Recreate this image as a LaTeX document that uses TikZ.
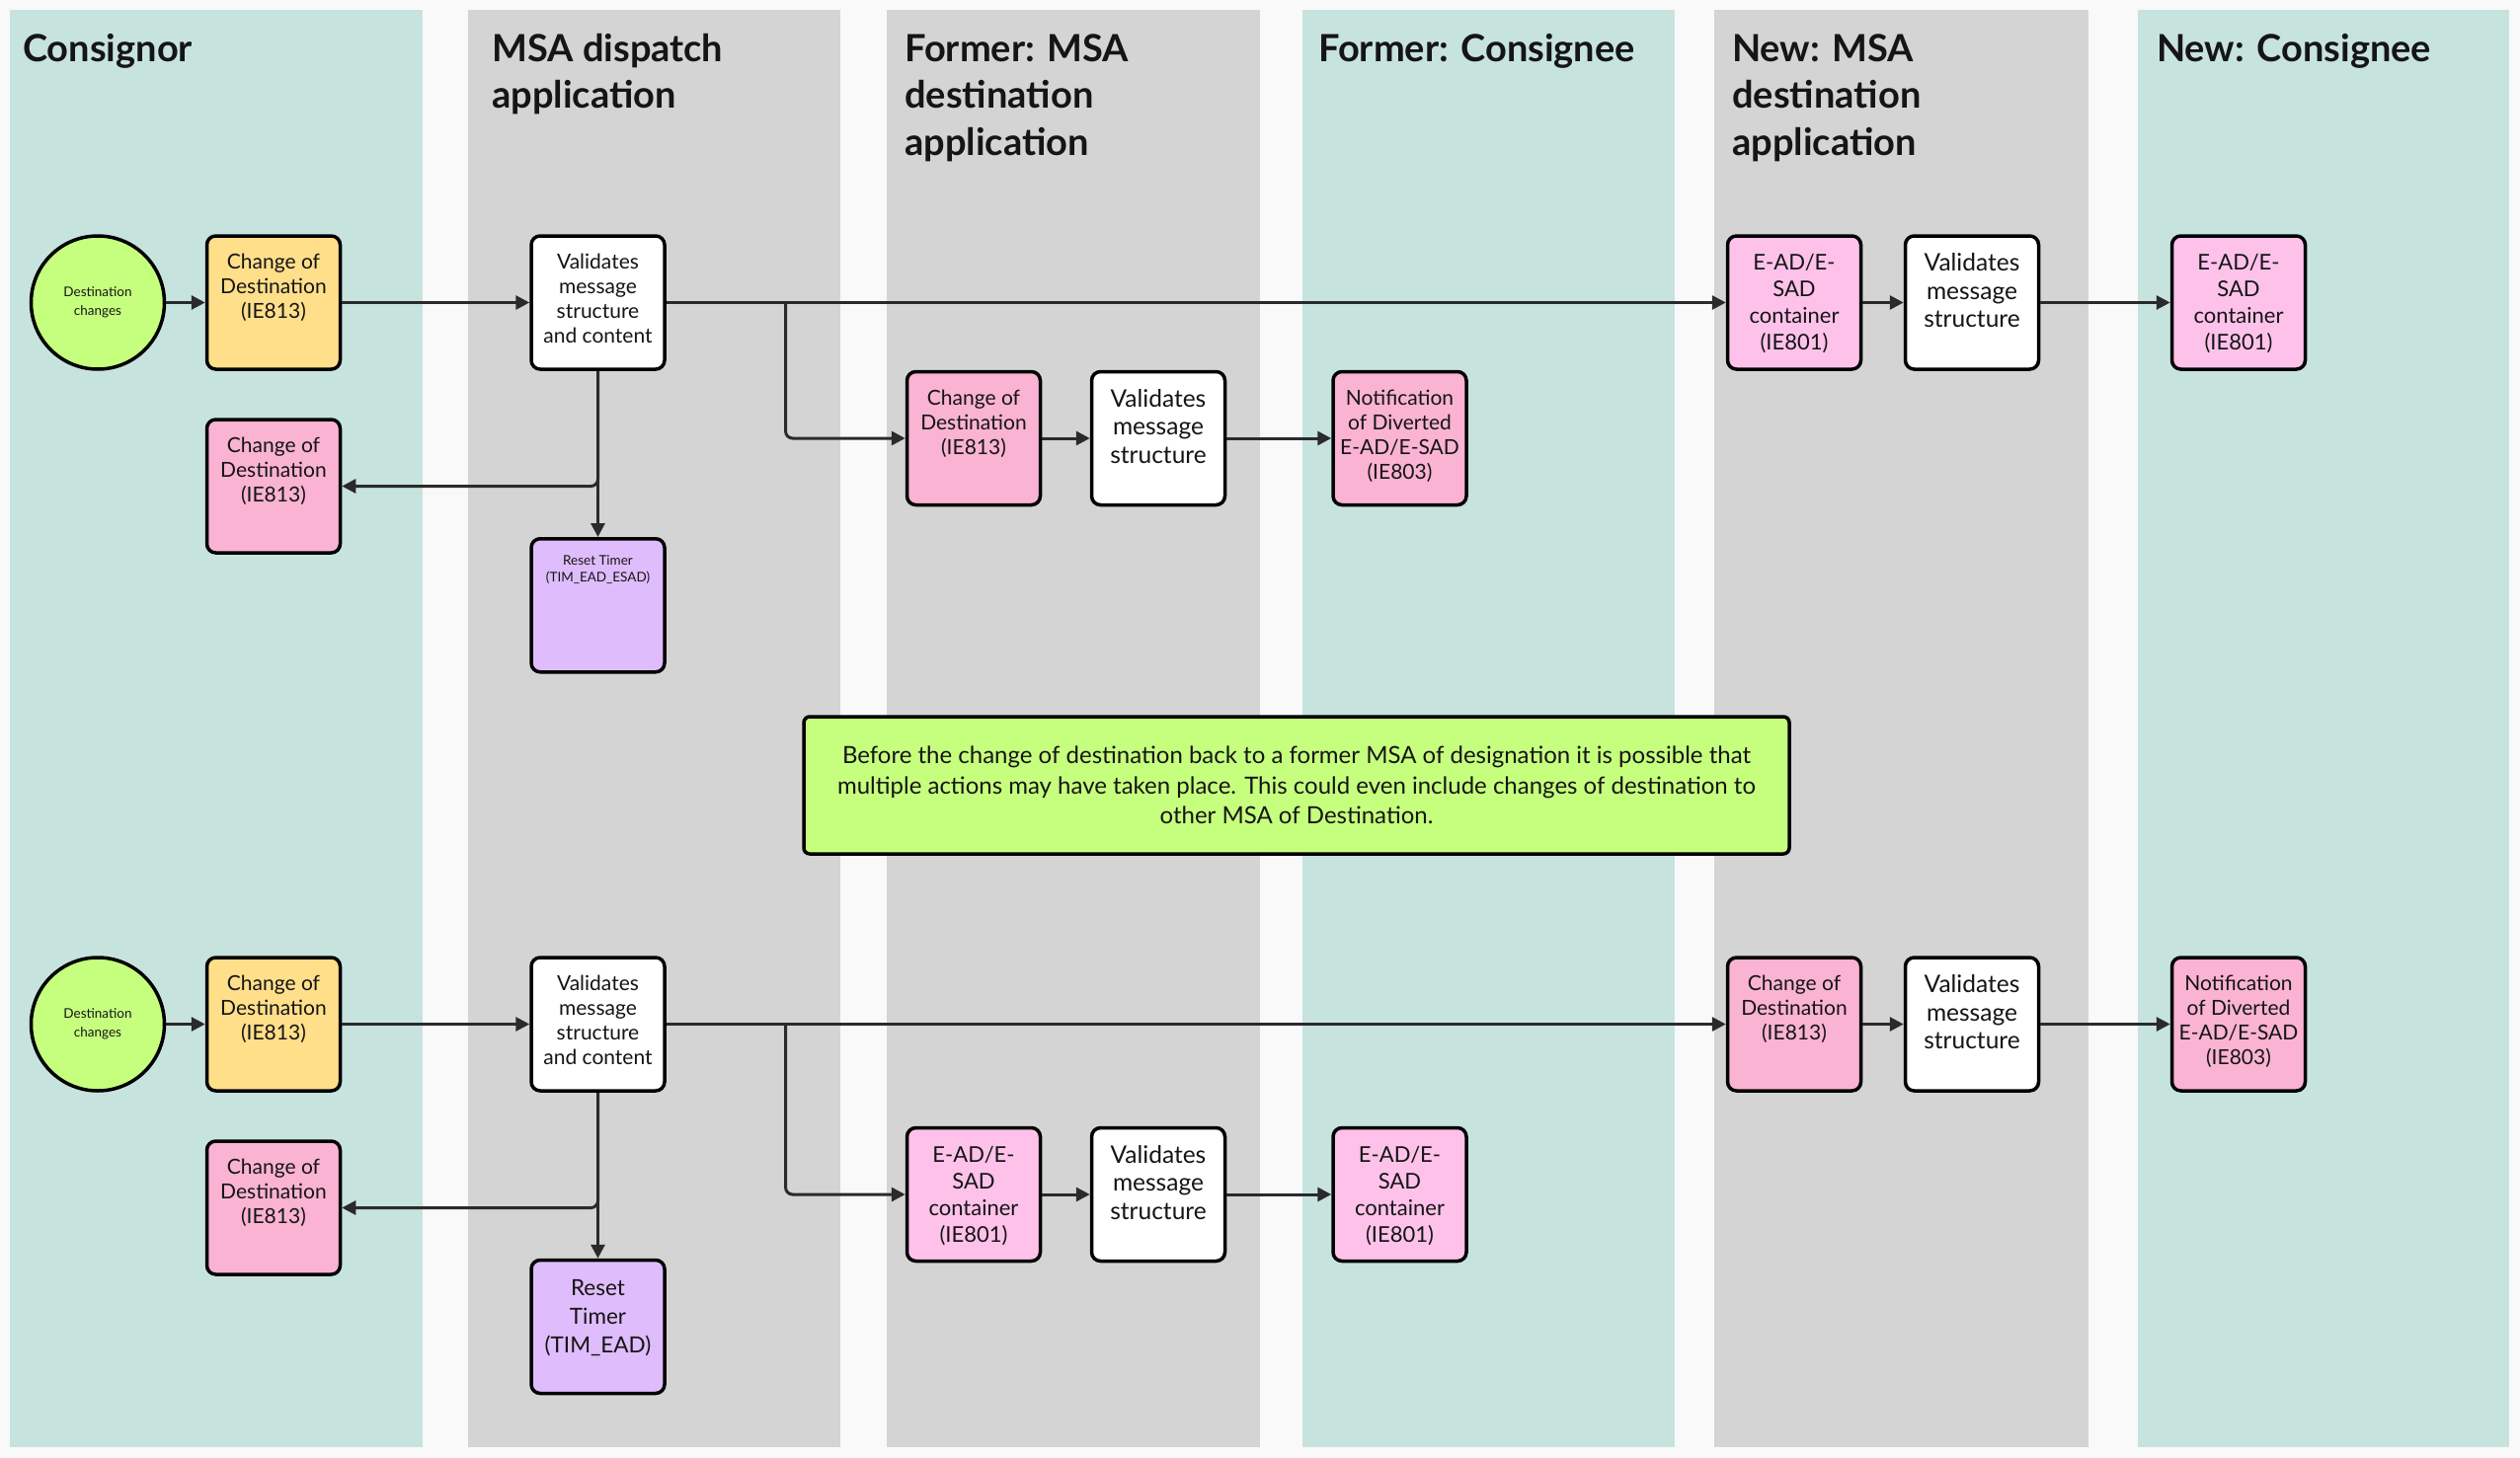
\documentclass[tikz,border=0pt]{standalone}
\usepackage{fontspec}
\setmainfont{Lato}
\usetikzlibrary{arrows.meta}
\definecolor{bgc}{HTML}{F9F9F9}
\definecolor{lteal}{HTML}{C7E3DE}
\definecolor{lgray}{HTML}{D4D4D4}
\definecolor{yel}{HTML}{FFDF8A}
\definecolor{pnk}{HTML}{FAB3D3}
\definecolor{lpnk}{HTML}{FEC2EA}
\definecolor{purp}{HTML}{DFBCFB}
\definecolor{lgreen}{HTML}{C6FF7E}
\definecolor{lineblk}{HTML}{2A2A2A}
\definecolor{txt}{HTML}{151515}
\newcommand\tb[2][16pt]{\begin{minipage}[c][135pt][t]{131pt}\centering\vspace*{#1}\strut #2\end{minipage}}
\newcommand\ttl[1]{\begin{minipage}[t]{380pt}\raggedright #1\end{minipage}}
\begin{document}
\begin{tikzpicture}[x=1pt,y=-1pt,
  box/.style={draw=black, line width=3.5pt, rounded corners=9pt, minimum width=135pt, minimum height=135pt, inner sep=0pt, text=txt},
  stdf/.style={font=\fontsize{21}{25}\selectfont},
  bigf/.style={font=\fontsize{24.5}{28.5}\selectfont},
  eadf/.style={font=\fontsize{22}{27}\selectfont},
  title/.style={anchor=base west, inner sep=0pt, text=txt, font=\fontsize{38}{47.5}\selectfont\bfseries},
  conn/.style={draw=lineblk, line width=3pt, -{Triangle[length=14pt,width=14pt]}},
  dot/.style={circle, draw=black, line width=3.5pt, fill=lgreen, minimum size=135pt, inner sep=0pt, align=center, text=txt, font=\fontsize{13.5}{19.5}\selectfont}
]
\useasboundingbox (0,0) rectangle (2552,1477);
\fill[bgc] (0,0) rectangle (2552,1477);
% lanes
\fill[lteal] (10,10) rectangle (428,1466);
\fill[lgray] (474,10) rectangle (851,1466);
\fill[lgray] (898,10) rectangle (1276,1466);
\fill[lteal] (1319,10) rectangle (1696,1466);
\fill[lgray] (1736,10) rectangle (2115,1466);
\fill[lteal] (2165,10) rectangle (2541,1466);
% titles
\node[title] (t1) at (23,62.5) {\ttl{Consignor}};
\node[title] (t2) at (498,62.5) {\ttl{MSA dispatch\\application}};
\node[title] (t3) at (916,62.5) {\ttl{Former: MSA\\destination\\application}};
\node[title] (t4) at (1335,62.5) {\ttl{Former: Consignee}};
\node[title] (t5) at (1754,62.5) {\ttl{New: MSA\\destination\\application}};
\node[title] (t6) at (2184,62.5) {\ttl{New: Consignee}};

% ---------- top flow ----------
\node[dot] (circ1) at (99,306.5) {Destination\\changes};
\node[box, fill=yel, stdf] (cod1) at (277,306.5) {\tb{Change of\\Destination\\(IE813)}};
\node[box, fill=white, stdf] (val1) at (605.5,306.5) {\tb{Validates\\message\\structure\\and content}};
\node[box, fill=pnk, stdf] (ret1) at (277,492.5) {\tb{Change of\\Destination\\(IE813)}};
\node[box, fill=purp, font=\fontsize{13.5}{17}\selectfont] (rst1) at (605.5,613.25) {\tb[15pt]{Reset Timer\\(TIM\_EAD\_ESAD)}};
\node[box, fill=pnk, stdf] (fcod1) at (986,444) {\tb{Change of\\Destination\\(IE813)}};
\node[box, fill=white, bigf] (fval1) at (1173,444) {\tb{Validates\\message\\structure}};
\node[box, fill=pnk, stdf] (fnot1) at (1417.5,444) {\tb{Notification\\of Diverted\\E-AD/E-SAD\\(IE803)}};
\node[box, fill=lpnk, eadf] (nead1) at (1817,306.5) {\tb{E-AD/E-\\SAD\\container\\(IE801)}};
\node[box, fill=white, bigf] (nval1) at (1997,306.5) {\tb{Validates\\message\\structure}};
\node[box, fill=lpnk, eadf] (ncon1) at (2267,306.5) {\tb{E-AD/E-\\SAD\\container\\(IE801)}};
\coordinate (j1) at (795.6,306.5);

\draw[conn] (circ1) -- (cod1);
\draw[conn] (cod1) -- (val1);
\draw[conn] (val1.east) -- (nead1.west);
\draw[conn, rounded corners=7pt] (j1) |- (fcod1.west);
\draw[conn] (val1.south) -- (rst1.north);
\draw[conn, rounded corners=7pt] (val1.south) |- (ret1.east);
\draw[conn] (fcod1) -- (fval1);
\draw[conn] (fval1) -- (fnot1);
\draw[conn] (nead1) -- (nval1);
\draw[conn] (nval1) -- (ncon1);

% ---------- note ----------
\node[draw=black, line width=3.5pt, rounded corners=6pt, fill=lgreen, minimum width=998pt, minimum height=139pt, align=center, text=txt, font=\fontsize{24}{30.3}\selectfont] (note) at (1313,795.5) {Before the change of destination back to a former MSA of designation it is possible that\\multiple actions may have taken place. This could even include changes of destination to\\other MSA of Destination.};

% ---------- bottom flow ----------
\node[dot] (circ2) at (99,1037.5) {Destination\\changes};
\node[box, fill=yel, stdf] (cod2) at (277,1037.5) {\tb{Change of\\Destination\\(IE813)}};
\node[box, fill=white, stdf] (val2) at (605.5,1037.5) {\tb{Validates\\message\\structure\\and content}};
\node[box, fill=pnk, stdf] (ret2) at (277,1223.5) {\tb{Change of\\Destination\\(IE813)}};
\node[box, fill=purp, font=\fontsize{22.5}{29}\selectfont] (rst2) at (605.5,1344) {\tb{Reset\\Timer\\(TIM\_EAD)}};
\node[box, fill=lpnk, eadf] (fead2) at (986,1210) {\tb{E-AD/E-\\SAD\\container\\(IE801)}};
\node[box, fill=white, bigf] (fval2) at (1173,1210) {\tb{Validates\\message\\structure}};
\node[box, fill=lpnk, eadf] (fcon2) at (1417.5,1210) {\tb{E-AD/E-\\SAD\\container\\(IE801)}};
\node[box, fill=pnk, stdf] (ncod2) at (1817,1037.5) {\tb{Change of\\Destination\\(IE813)}};
\node[box, fill=white, bigf] (nval2) at (1997,1037.5) {\tb{Validates\\message\\structure}};
\node[box, fill=pnk, stdf] (nnot2) at (2267,1037.5) {\tb{Notification\\of Diverted\\E-AD/E-SAD\\(IE803)}};
\coordinate (j2) at (795.6,1037.5);

\draw[conn] (circ2) -- (cod2);
\draw[conn] (cod2) -- (val2);
\draw[conn] (val2.east) -- (ncod2.west);
\draw[conn, rounded corners=7pt] (j2) |- (fead2.west);
\draw[conn] (val2.south) -- (rst2.north);
\draw[conn, rounded corners=7pt] (val2.south) |- (ret2.east);
\draw[conn] (fead2) -- (fval2);
\draw[conn] (fval2) -- (fcon2);
\draw[conn] (ncod2) -- (nval2);
\draw[conn] (nval2) -- (nnot2);
\end{tikzpicture}
\end{document}
